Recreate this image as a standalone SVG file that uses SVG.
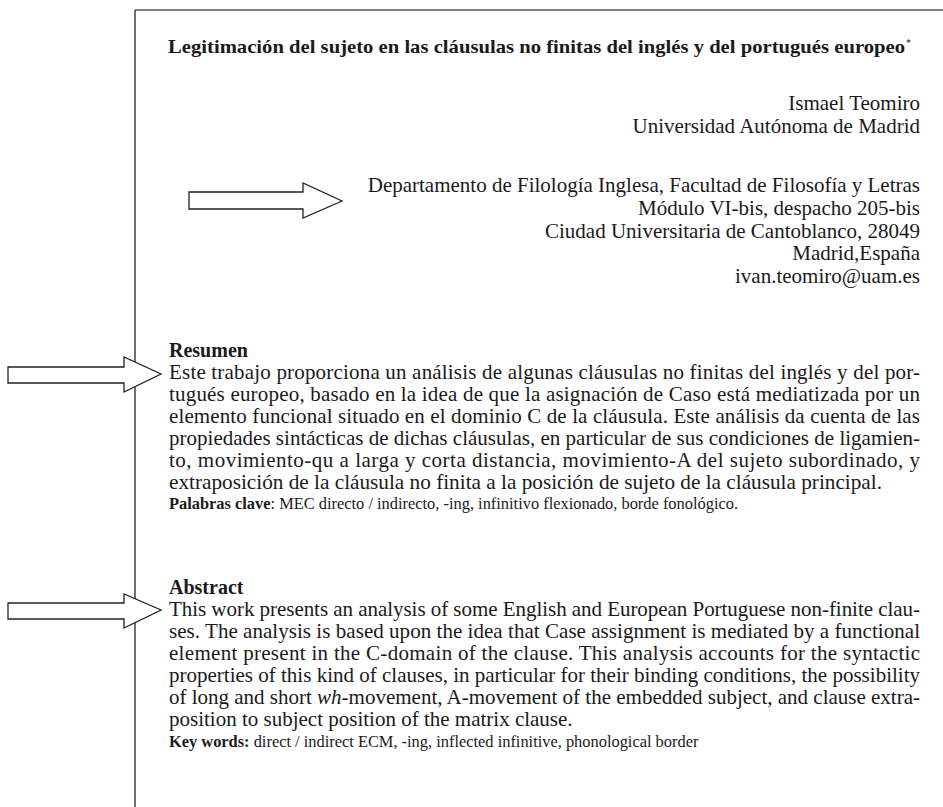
<svg xmlns="http://www.w3.org/2000/svg" width="943" height="807" viewBox="0 0 943 807">
<style>
.t{font-family:"Liberation Serif","Times New Roman",serif;fill:#1a1a1a}
.b{font-size:21px}
.h{font-size:20px}
.bold{font-weight:bold}
.r{text-anchor:end}
.s{font-size:16.4px}
.arr{fill:#fff;stroke:#222;stroke-width:1.3;stroke-linejoin:miter}
</style>
<rect width="943" height="807" fill="#fff"/>
<g id="frame">
<line x1="135" y1="10" x2="943" y2="10" stroke="#555" stroke-width="1.6"/>
<line x1="135" y1="10" x2="135" y2="807" stroke="#222" stroke-width="1.3"/>
</g>
<g id="title">
<text class="t bold" x="168" y="53" font-size="19" textLength="737" lengthAdjust="spacingAndGlyphs">Legitimación del sujeto en las cláusulas no finitas del inglés y del portugués europeo</text>
<text class="t" x="906" y="46" font-size="10">*</text>
</g>
<g id="author">
<text class="t b r" x="920" y="110">Ismael Teomiro</text>
<text class="t b r" x="920" y="133">Universidad Autónoma de Madrid</text>
</g>
<g id="address">
<text class="t b r" x="920" y="192">Departamento de Filología Inglesa, Facultad de Filosofía y Letras</text>
<text class="t b r" x="920" y="215">Módulo VI-bis, despacho 205-bis</text>
<text class="t b r" x="920" y="238">Ciudad Universitaria de Cantoblanco, 28049</text>
<text class="t b r" x="920" y="260">Madrid,España</text>
<text class="t b r" x="920" y="283">ivan.teomiro@uam.es</text>
</g>
<g id="resumen">
<text class="t h bold" x="169" y="357">Resumen</text>
<text class="t b" x="169" y="379" textLength="751" lengthAdjust="spacing">Este trabajo proporciona un análisis de algunas cláusulas no finitas del inglés y del por-</text>
<text class="t b" x="169" y="401" textLength="751" lengthAdjust="spacing">tugués europeo, basado en la idea de que la asignación de Caso está mediatizada por un</text>
<text class="t b" x="169" y="423" textLength="751" lengthAdjust="spacing">elemento funcional situado en el dominio C de la cláusula. Este análisis da cuenta de las</text>
<text class="t b" x="169" y="445" textLength="751" lengthAdjust="spacing">propiedades sintácticas de dichas cláusulas, en particular de sus condiciones de ligamien-</text>
<text class="t b" x="169" y="467" textLength="751" lengthAdjust="spacing">to, movimiento-qu a larga y corta distancia, movimiento-A del sujeto subordinado, y</text>
<text class="t b" x="169" y="489" textLength="713" lengthAdjust="spacingAndGlyphs">extraposición de la cláusula no finita a la posición de sujeto de la cláusula principal.</text>
<text class="t s" x="169" y="509"><tspan class="bold">Palabras clave</tspan>: MEC directo / indirecto, -ing, infinitivo flexionado, borde fonológico.</text>
</g>
<g id="abstract">
<text class="t h bold" x="169" y="594">Abstract</text>
<text class="t b" x="169" y="616" textLength="751" lengthAdjust="spacing">This work presents an analysis of some English and European Portuguese non-finite clau-</text>
<text class="t b" x="169" y="638" textLength="751" lengthAdjust="spacing">ses. The analysis is based upon the idea that Case assignment is mediated by a functional</text>
<text class="t b" x="169" y="660" textLength="751" lengthAdjust="spacing">element present in the C-domain of the clause. This analysis accounts for the syntactic</text>
<text class="t b" x="169" y="682" textLength="751" lengthAdjust="spacing">properties of this kind of clauses, in particular for their binding conditions, the possibility</text>
<text class="t b" x="169" y="704" textLength="751" lengthAdjust="spacing">of long and short <tspan font-style="italic">wh</tspan>-movement, A-movement of the embedded subject, and clause extra-</text>
<text class="t b" x="169" y="726">position to subject position of the matrix clause.</text>
<text class="t s" x="169" y="747"><tspan class="bold">Key words:</tspan> direct / indirect ECM, -ing, inflected infinitive, phonological border</text>
</g>
<g id="connectors">
<polygon class="arr" points="189,192 303,192 303,183 342,201 303,218 303,209 189,209"/>
<polygon class="arr" points="8,367 124,367 124,357 161,374 124,392 124,383 8,383"/>
<polygon class="arr" points="8,603 124,603 124,594 161,610 124,628 124,619 8,619"/>
</g>
</svg>
